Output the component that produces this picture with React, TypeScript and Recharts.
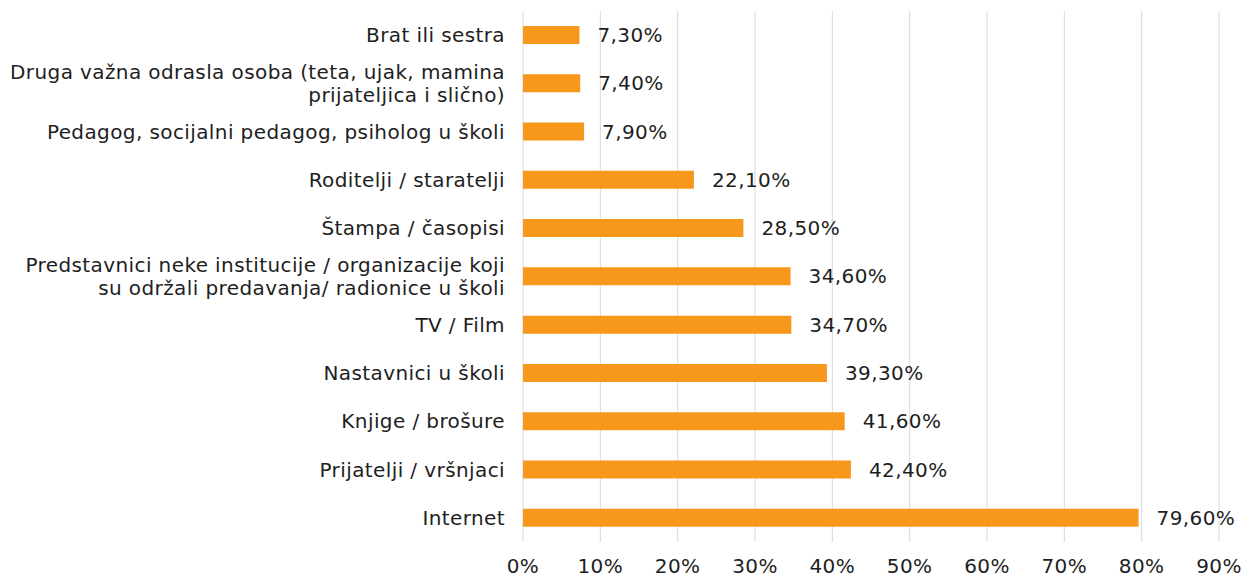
import { BarChart, Bar, XAxis, YAxis, CartesianGrid, LabelList } from 'recharts'

document.body.style.margin = '0'

const categories = [
  'Brat ili sestra',
  'Druga važna odrasla osoba (teta, ujak, mamina\nprijateljica i slično)',
  'Pedagog, socijalni pedagog, psiholog u školi',
  'Roditelji / staratelji',
  'Štampa / časopisi',
  'Predstavnici neke institucije / organizacije koji\nsu održali predavanja/ radionice u školi',
  'TV / Film',
  'Nastavnici u školi',
  'Knjige / brošure',
  'Prijatelji / vršnjaci',
  'Internet',
]
const values = [7.3, 7.4, 7.9, 22.1, 28.5, 34.6, 34.7, 39.3, 41.6, 42.4, 79.6]
const xTicks = [0, 10, 20, 30, 40, 50, 60, 70, 80, 90]

const data = categories.map((name, i) => ({ name, value: values[i] }))

const FONT = '"DejaVu Sans", sans-serif'
const TEXT = '#1e1e1e'
const SIZE = 20
const SPACING = 0.4

const CategoryTick = ({ x, y, payload }: any) => {
  const lines = String(payload.value).split('\n')
  const start = -((lines.length - 1) * 23) / 2
  return (
    <text x={x - 10} y={y} textAnchor="end" fill={TEXT} fontSize={SIZE} fontFamily={FONT} letterSpacing={SPACING}>
      {lines.map((l, i) => (
        <tspan key={i} x={x - 10} y={y + start + i * 23} dominantBaseline="central">{l}</tspan>
      ))}
    </text>
  )
}

const PercentTick = ({ x, y, payload }: any) => (
  <text x={x} y={y + 16} textAnchor="middle" dominantBaseline="central" fill={TEXT} fontSize={SIZE} fontFamily={FONT} letterSpacing={SPACING}>
    {payload.value}%
  </text>
)

export default function App() {
  return (
    <BarChart
      width={1245}
      height={576}
      data={data}
      layout="vertical"
      margin={{ top: 11, right: 26, bottom: 0, left: 0 }}
      barCategoryGap={0}
    >
      <CartesianGrid horizontal={false} stroke="#d9d9d9" />
      <XAxis
        type="number"
        domain={[0, 90]}
        ticks={xTicks}
        axisLine={false}
        tickLine={false}
        tick={<PercentTick />}
        height={34}
        interval={0}
      />
      <YAxis
        type="category"
        dataKey="name"
        width={523}
        axisLine={false}
        tickLine={false}
        tick={<CategoryTick />}
        interval={0}
      />
      <Bar dataKey="value" fill="#F7981D" barSize={18} isAnimationActive={false}>
        <LabelList
          dataKey="value"
          position="right"
          offset={18}
          fill={TEXT}
          fontSize={SIZE}
          fontFamily={FONT}
          letterSpacing={SPACING}
          formatter={(v: any) => Number(v).toFixed(2).replace('.', ',') + '%'}
        />
      </Bar>
    </BarChart>
  )
}
